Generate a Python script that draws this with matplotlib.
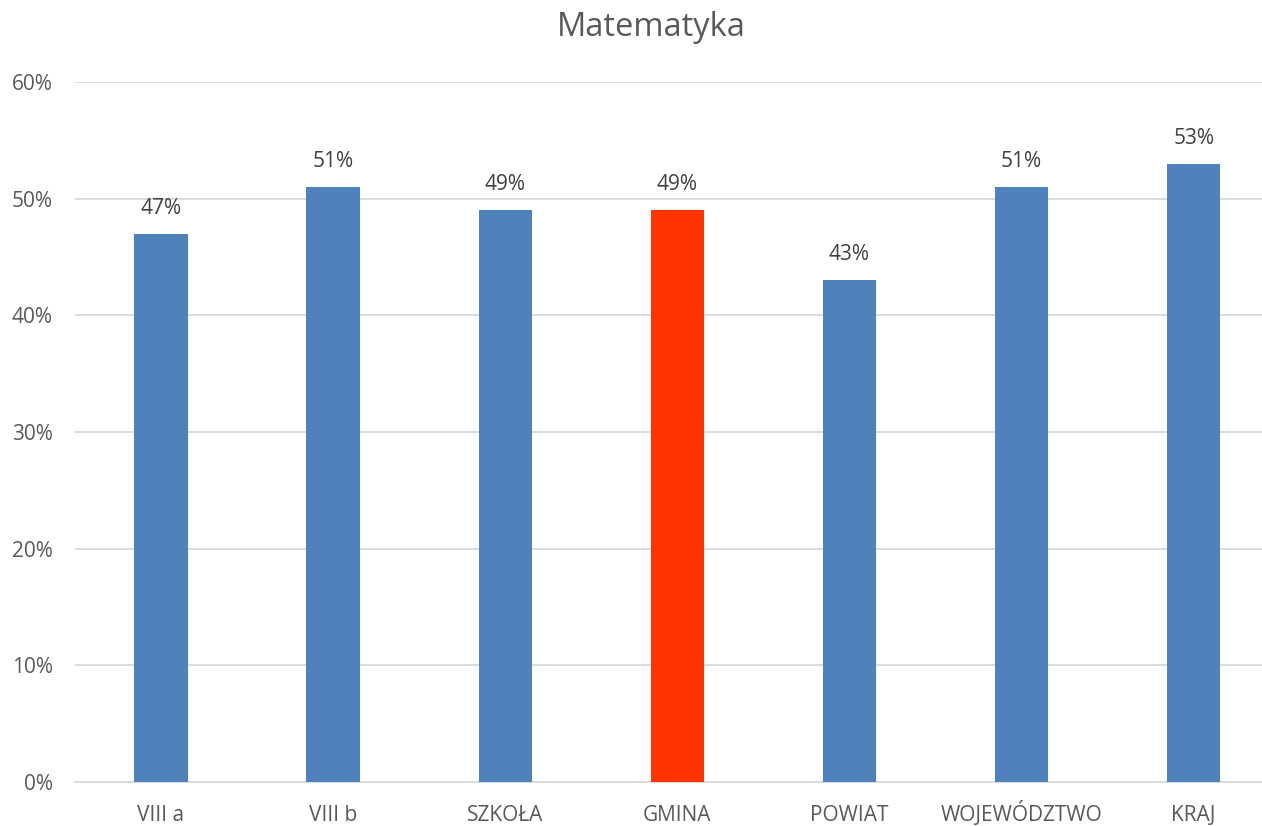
import matplotlib
matplotlib.use("Agg")
import matplotlib.pyplot as plt
from matplotlib.ticker import FuncFormatter

categories = ["VIII a", "VIII b", "SZKOŁA", "GMINA", "POWIAT", "WOJEWÓDZTWO", "KRAJ"]
values = [47, 51, 49, 49, 43, 51, 53]
colors = ["#4F81BD", "#4F81BD", "#4F81BD", "#FF3300", "#4F81BD", "#4F81BD", "#4F81BD"]

plt.rcParams['font.family'] = ['Open Sans', 'DejaVu Sans']
text_color = "#595959"

fig = plt.figure(figsize=(12.62, 8.26), dpi=100)
W, H = 1262, 826
ax = fig.add_axes([75 / W, (H - 782) / H, (1262 - 75) / W, (782 - 82) / H])

x = list(range(len(categories)))
ax.bar(x, values, width=0.31, color=colors, zorder=3)
for xi, v in zip(x, values):
    ax.text(xi, v + 1.3, f"{v}%", ha="center", va="bottom", fontsize=15, color="#404040")

ax.set_xlim(-0.5, 6.397)
ax.set_ylim(0, 60)
ax.set_yticks(range(0, 61, 10))
ax.yaxis.set_major_formatter(FuncFormatter(lambda v, p: f"{int(v)}%"))
ax.set_xticks(x)
ax.set_xticklabels(categories)
ax.tick_params(axis="both", length=0, labelsize=15, colors=text_color)
ax.tick_params(axis="y", pad=16)
ax.tick_params(axis="x", pad=28)
for lab in ax.get_xticklabels():
    lab.set_verticalalignment("baseline")
ax.grid(axis="y", color="#D9D9D9", linewidth=1.3, zorder=0)
for s in ["top", "right", "left"]:
    ax.spines[s].set_visible(False)
ax.spines["bottom"].set_color("#D9D9D9")
ax.spines["bottom"].set_linewidth(1.3)

fig.text(651 / W, 1 - 27 / H, "Matematyka", ha="center", va="center", fontsize=23.5, color=text_color)

fig.savefig("out.png", dpi=100)
